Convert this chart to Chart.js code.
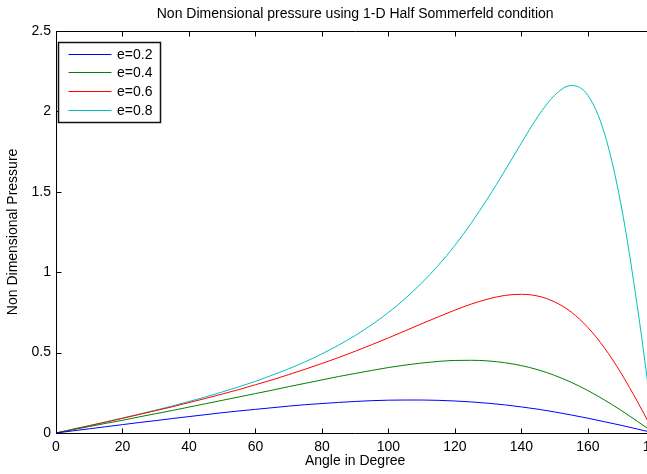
<!DOCTYPE html>
<html>
<head>
<meta charset="utf-8">
<script src="https://cdn.jsdelivr.net/npm/chart.js@4/dist/chart.umd.min.js"></script>
<style>
html,body{margin:0;padding:0;overflow:hidden;background:#fff;}
#wrap{width:672px;height:474px;}
canvas{display:block;}
</style>
</head>
<body>
<div id="wrap"><canvas id="c" width="672" height="474" style="width:672px;height:474px"></canvas></div>
<script>
// Angle in degrees (x values)
const angles = [0,5,10,15,20,25,30,35,40,45,50,55,60,65,70,75,80,85,90,95,100,105,110,115,120,125,130,135,140,145,150,155,160,165,170,175,180];
// Non dimensional pressure for each eccentricity ratio
const e02 = [0,0.013,0.026,0.039,0.052,0.065,0.077,0.090,0.102,0.114,0.126,0.137,0.147,0.157,0.167,0.176,0.183,0.190,0.196,0.201,0.204,0.205,0.205,0.203,0.199,0.193,0.185,0.175,0.162,0.148,0.131,0.112,0.092,0.070,0.048,0.024,0];
const e04 = [0,0.020,0.040,0.060,0.079,0.100,0.120,0.140,0.161,0.182,0.203,0.224,0.245,0.266,0.288,0.309,0.330,0.351,0.370,0.389,0.407,0.422,0.435,0.445,0.451,0.452,0.448,0.437,0.419,0.393,0.358,0.315,0.264,0.205,0.141,0.071,0];
const e06 = [0,0.023,0.045,0.068,0.091,0.115,0.139,0.163,0.189,0.215,0.242,0.270,0.300,0.330,0.363,0.397,0.432,0.469,0.508,0.549,0.591,0.635,0.679,0.722,0.764,0.802,0.833,0.855,0.862,0.851,0.815,0.752,0.656,0.529,0.372,0.192,0];
const e08 = [0,0.023,0.046,0.069,0.093,0.117,0.142,0.168,0.196,0.224,0.255,0.287,0.321,0.359,0.399,0.443,0.492,0.546,0.606,0.673,0.749,0.835,0.932,1.042,1.166,1.307,1.462,1.629,1.802,1.968,2.099,2.160,2.099,1.863,1.417,0.771,0];
const seriesLabels = ['e=0.2','e=0.4','e=0.6','e=0.8'];
const seriesValues = [e02, e04, e06, e08];
const seriesColors = ['#0000ff','#008000','#ff0000','#00bfbf'];
const xTicks = [0,20,40,60,80,100,120,140,160,180];
const yTicks = [0,0.5,1,1.5,2,2.5];

const FONT = "'Liberation Sans', Arial, sans-serif";

const frameTicks = {
  id: 'frameTicks',
  afterDatasetsDraw(chart) {
    const ctx = chart.ctx, ca = chart.chartArea;
    const xs = chart.scales.x, ys = chart.scales.y;
    const L = Math.round(ca.left) + 0.5, R = Math.round(ca.right) + 0.5;
    const T = Math.round(ca.top) + 0.5, B = Math.round(ca.bottom) + 0.5;
    ctx.save();
    ctx.strokeStyle = '#000';
    ctx.lineWidth = 1;
    ctx.beginPath();
    ctx.rect(L, T, R - L, B - T);
    xTicks.forEach(v => {
      const px = Math.round(xs.getPixelForValue(v)) + 0.5;
      ctx.moveTo(px, B); ctx.lineTo(px, B - 5);
      ctx.moveTo(px, T); ctx.lineTo(px, T + 5);
    });
    yTicks.forEach(v => {
      const py = Math.round(ys.getPixelForValue(v)) + 0.5;
      ctx.moveTo(L, py); ctx.lineTo(L + 5, py);
      ctx.moveTo(R, py); ctx.lineTo(R - 5, py);
    });
    ctx.stroke();
    ctx.restore();
  }
};

const boxLegend = {
  id: 'boxLegend',
  afterDraw(chart) {
    const ctx = chart.ctx, ca = chart.chartArea;
    const x0 = Math.round(ca.left) + 2.5, y0 = Math.round(ca.top) + 11.5;
    const w = 102, h = 80;
    ctx.save();
    ctx.fillStyle = '#fff';
    ctx.fillRect(x0, y0, w, h);
    ctx.strokeStyle = '#111';
    ctx.lineWidth = 1.5;
    ctx.strokeRect(x0, y0, w, h);
    ctx.font = '14px ' + FONT;
    ctx.textBaseline = 'middle';
    ctx.textAlign = 'left';
    chart.data.datasets.forEach((ds, i) => {
      const y = Math.round(y0 + 11 + i * 18.7) + 0.5;
      ctx.strokeStyle = ds.borderColor;
      ctx.lineWidth = 1;
      ctx.beginPath();
      ctx.moveTo(x0 + 10, y);
      ctx.lineTo(x0 + 53, y);
      ctx.stroke();
      ctx.fillStyle = '#000';
      ctx.fillText(ds.label, x0 + 58.5, y + 0.5);
    });
    ctx.restore();
  }
};

const datasets = seriesLabels.map((lab, k) => ({
  label: lab,
  data: angles.map((a, i) => ({ x: a, y: seriesValues[k][i] })),
  borderColor: seriesColors[k],
  backgroundColor: seriesColors[k],
  borderWidth: 1,
  pointRadius: 0,
  cubicInterpolationMode: 'monotone',
  fill: false
}));

new Chart(document.getElementById('c'), {
  type: 'line',
  data: { datasets },
  options: {
    responsive: false,
    animation: false,
    devicePixelRatio: 1,
    layout: { padding: { left: 0, right: 0, top: 0, bottom: 0 } },
    plugins: {
      legend: { display: false },
      tooltip: { enabled: false },
      title: {
        display: true,
        fullSize: false,
        text: 'Non Dimensional pressure using 1-D Half Sommerfeld condition',
        color: '#000',
        font: { family: FONT, size: 14, weight: 'normal' },
        padding: { top: 6, bottom: 8 }
      }
    },
    scales: {
      x: {
        type: 'linear',
        min: 0, max: 180,
        afterBuildTicks(scale) { scale.ticks = xTicks.map(v => ({ value: v })); },
        afterFit(scale) { scale.height = 41; },
        grid: { display: false, drawTicks: false },
        border: { display: false },
        ticks: { color: '#000', padding: 6, maxRotation: 0, autoSkip: false, callback: v => String(v), font: { family: FONT, size: 14 } },
        title: { display: true, text: 'Angle in Degree', color: '#000', padding: { top: 0, bottom: 4 }, font: { family: FONT, size: 14 } }
      },
      y: {
        type: 'linear',
        min: 0, max: 2.5,
        afterBuildTicks(scale) { scale.ticks = yTicks.map(v => ({ value: v })); },
        afterFit(scale) { scale.width = 56; },
        grid: { display: false, drawTicks: false },
        border: { display: false },
        ticks: { color: '#000', padding: 5, callback: v => String(v), font: { family: FONT, size: 14 } },
        title: { display: true, text: 'Non Dimensional Pressure', color: '#000', padding: { top: 5, bottom: 0 }, font: { family: FONT, size: 14 } }
      }
    }
  },
  plugins: [frameTicks, boxLegend]
});
</script>
</body>
</html>
